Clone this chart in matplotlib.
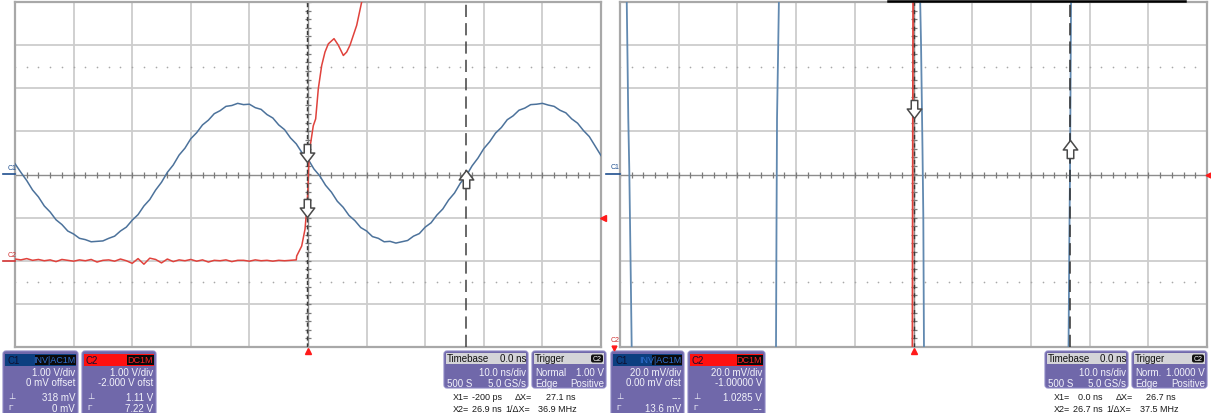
import numpy as np
import matplotlib
matplotlib.use('Agg')
import matplotlib.pyplot as plt
from matplotlib.patches import FancyBboxPatch, Rectangle
from matplotlib.path import Path
from matplotlib import font_manager

W, H = 1211, 414

# ---------------- data (left screen: 10 ns/div, C1 1 V/div, C2 1 V/div, C2 offset -2 V)
blue_left_t = list(range(-50, 51))
blue_left_v = [0.25, 0.05, -0.14, -0.36, -0.52, -0.73, -0.87, -1.05, -1.16, -1.31,
               -1.38, -1.48, -1.51, -1.56, -1.55, -1.54, -1.48, -1.43, -1.31, -1.22,
               -1.06, -0.93, -0.73, -0.58, -0.36, -0.18, 0.05, 0.22, 0.45, 0.61,
               0.83, 0.97, 1.15, 1.26, 1.41, 1.48, 1.58, 1.60, 1.65, 1.62,
               1.63, 1.55, 1.51, 1.39, 1.31, 1.15, 1.04, 0.85, 0.71, 0.50,
               0.36, 0.13, -0.03, -0.25, -0.41, -0.62, -0.76, -0.95, -1.07, -1.23,
               -1.31, -1.44, -1.48, -1.56, -1.55, -1.59, -1.56, -1.53, -1.43, -1.37,
               -1.22, -1.12, -0.94, -0.80, -0.59, -0.43, -0.20, -0.03, 0.20, 0.38,
               0.60, 0.76, 0.96, 1.09, 1.27, 1.36, 1.49, 1.54, 1.62, 1.63,
               1.65, 1.61, 1.58, 1.49, 1.43, 1.29, 1.19, 1.02, 0.88, 0.66,
               0.44]

red_flat_t = list(range(-50, -1))
red_flat_v = [0.04, 0.02, 0.05, 0.01, 0.03, 0.00, 0.02, -0.02, 0.03, 0.01,
              -0.01, 0.02, 0.00, 0.03, -0.03, 0.01, 0.02, -0.01, 0.04, 0.00,
              -0.06, 0.05, -0.08, 0.06, 0.03, -0.05, 0.04, -0.02, 0.02, 0.00,
              0.03, -0.01, 0.02, -0.03, 0.01, 0.00, 0.02, -0.02, 0.01, 0.01,
              -0.01, 0.02, 0.00, 0.01, -0.01, 0.01, 0.00, 0.01, 0.02]
red_edge_t = [-1.93, -1.08, -0.51, -0.12, 0.22, 0.90, 1.31, 1.76, 2.34, 2.90,
              3.47, 4.44, 5.17, 6.03, 6.60, 7.17, 8.31, 9.16, 10.0]
red_edge_v = [0.11, 0.34, 0.73, 1.36, 2.52, 3.13, 3.29, 3.99, 4.53, 4.84,
              5.03, 5.15, 5.00, 4.76, 4.84, 5.00, 5.46, 6.00, 6.50]

# ---------------- data (right screen: 10 ns/div, C1 20 mV/div, C2 20 mV/div, C2 offset -1 V)
edge1_t = [-48.87, -48.72, -48.59, -48.42, -48.30, -48.16, -47.99]
edge1_mv = [84, 53.7, 25.8, 2.6, -20.7, -48.6, -84]
edge2_t = [-23.43, -23.34, -23.25, -23.08, -22.91]
edge2_mv = [-84, -25, 26, 54, 84]
edge3_t = [1.11, 1.28, 1.53, 1.67, 1.79]
edge3_mv = [84, 61, 12, -19, -84]
edge4_t = [26.40, 26.55, 26.66, 26.75, 26.85]
edge4_mv = [-84, -30, 0, 40, 84]
red_right_t = [-0.20, -0.13, -0.06]
red_right_v = [0.90, 1.00, 1.10]

cursors_left = [-0.2, 26.9]
cursors_right = [0.0, 26.7]

BLUE = '#4c729b'
RED = '#e0423c'
GRID = '#cdcdcd'
PURPLE = '#7068aa'


def pick_font():
    for name in ['Liberation Sans Narrow', 'DejaVu Sans Condensed', 'Liberation Sans']:
        try:
            font_manager.findfont(font_manager.FontProperties(family=name),
                                  fallback_to_default=False)
            return name
        except Exception:
            pass
    return 'DejaVu Sans'


FONT = pick_font()
FAM = [FONT, 'DejaVu Sans']

# block-arrow marker (pointing down)
_v = [(-0.36, 1.0), (0.36, 1.0), (0.36, 0.05), (0.8, 0.05), (0.0, -1.0),
      (-0.8, 0.05), (-0.36, 0.05), (-0.36, 1.0)]
ARROW_DOWN = Path(_v, [Path.MOVETO] + [Path.LINETO] * 6 + [Path.CLOSEPOLY])
ARROW_UP = Path([(x, -y) for x, y in _v], [Path.MOVETO] + [Path.LINETO] * 6 + [Path.CLOSEPOLY])

fig = plt.figure(figsize=(W / 100, H / 100), dpi=100)


def make_screen(x0, x1):
    ax = fig.add_axes([x0 / W, 1 - 348 / H, (x1 - x0) / W, 345 / H])
    ax.set_xlim(-50, 50)
    ax.set_ylim(-4, 4)
    ax.set_xticks([])
    ax.set_yticks([])
    for s in ax.spines.values():
        s.set_color('#a8a8a8')
        s.set_linewidth(1.6)
    for i in range(-4, 5):
        if i != 0:
            ax.axvline(i * 10, color=GRID, lw=1.3, zorder=0)
    for j in range(-3, 4):
        if j != 0:
            ax.axhline(j, color=GRID, lw=1.3, zorder=0)
    ax.axhline(0, color='#8c8c8c', lw=1.0, zorder=0)
    ax.axvline(0, color='#8c8c8c', lw=1.0, zorder=0)
    xs = np.arange(-50, 50.01, 2)
    ax.plot(xs, np.zeros_like(xs), ls='none', marker='|', ms=4, mew=0.9,
            color='#7a7a7a', zorder=0)
    ys = np.arange(-4, 4.01, 0.2)
    ax.plot(np.zeros_like(ys), ys, ls='none', marker='_', ms=4, mew=0.9,
            color='#7a7a7a', zorder=0)
    for yd in (2.5, -2.5):
        ax.plot(xs, np.full_like(xs, yd), ls='none', marker='o', ms=1.2,
                mew=0, color='#a8a8a8', zorder=0)
    return ax


ax1 = make_screen(15, 601)
ax2 = make_screen(620, 1207)

# ---- left traces
ax1.plot(blue_left_t, np.array(blue_left_v) / 1.0, color=BLUE, lw=1.1, zorder=3)
red_t = red_flat_t + red_edge_t
red_v = red_flat_v + red_edge_v
ax1.plot(red_t, (np.array(red_v) - 2.0) / 1.0, color=RED, lw=1.1, zorder=3)
ax1.axvline(cursors_left[0], color='#3a3a3a', lw=1.0, ls=(0, (3, 2)), zorder=4)
ax1.axvline(cursors_left[1], color='#404040', lw=1.1, ls=(0, (8, 4)), zorder=4)

# ---- right traces
for tt, mv in ((edge1_t, edge1_mv), (edge2_t, edge2_mv), (edge3_t, edge3_mv), (edge4_t, edge4_mv)):
    ax2.plot(tt, np.array(mv) / 20.0, color='#6189b0', lw=1.3, zorder=3)
ax2.plot(red_right_t, (np.array(red_right_v) - 1.0) / 0.02, color=RED, lw=1.3, zorder=3)
ax2.axvline(cursors_right[0], color='#3a3a3a', lw=1.0, ls=(0, (3, 3)), zorder=4)
ax2.axvline(cursors_right[1], color='#303030', lw=1.1, ls=(0, (8, 4)), zorder=4)

# ---- cursor arrows
def arrow(ax, x, y, up=False):
    ax.plot([x], [y], marker=ARROW_UP if up else ARROW_DOWN, ms=13, mfc='#ffffff',
            mec='#4a4a4a', mew=1.1, ls='none', zorder=6)


bv = np.interp(cursors_left[0], blue_left_t, blue_left_v)
rv = np.interp(cursors_left[0], red_t, red_v) - 2.0
arrow(ax1, cursors_left[0], bv + 0.1)
arrow(ax1, cursors_left[0], rv)
bv2 = np.interp(cursors_left[1], blue_left_t, blue_left_v)
arrow(ax1, cursors_left[1], bv2 - 0.05, up=True)
arrow(ax2, cursors_right[0], 1.52)
arrow(ax2, cursors_right[1], 0.59, up=True)

# ---- trigger markers
ax1.plot([0], [-4.1], marker='^', color='#ff1a1a', ms=4.5, clip_on=False, zorder=6)
ax2.plot([0], [-4.1], marker='^', color='#ff1a1a', ms=4.5, clip_on=False, zorder=6)
ax1.plot([50.35], [-1.0], marker='<', color='#ff1a1a', ms=4.5, clip_on=False, zorder=6)
ax2.plot([50.15], [0.0], marker='<', color='#ff1a1a', ms=3.5, clip_on=False, zorder=6)

# ---------------- overlay in pixel coordinates
ov = fig.add_axes([0, 0, 1, 1], zorder=10)
ov.set_xlim(0, W)
ov.set_ylim(H, 0)
ov.axis('off')
ov.patch.set_alpha(0)


def T(x, y, s, ha='left', color='#f2f2fa', size=7, weight='normal'):
    ov.text(x, y, s, ha=ha, va='center', color=color, fontsize=size,
            family=FAM, fontweight=weight)


def rbox(x0, y0, x1, y1, fc, ec='#8d88c4', r=3, lw=0.8):
    ov.add_patch(FancyBboxPatch((x0, y0), x1 - x0, y1 - y0,
                                boxstyle=f'round,pad=0,rounding_size={r}',
                                fc=fc, ec=ec, lw=lw))


def chan_box(x0, x1, hdr, label, tag, tagx0, tagcol, lines):
    rbox(x0, 352, x1, 418, PURPLE)
    ov.add_patch(Rectangle((x0 + 2, 355), x1 - x0 - 4, 11.5, fc=hdr, ec='none'))
    T(x0 + 4, 360.8, label, color='#101030', size=7)
    ov.add_patch(Rectangle((tagx0, 356), x1 - 2 - tagx0, 9.5, fc='#0a0a0a', ec='none'))
    T(x1 - 3, 360.8, tag, ha='right', color=tagcol, size=6.5)
    ys = [373, 383.5, 398, 409]
    for (s, y) in zip(lines, ys):
        T(x1 - 3, y, s, ha='right')
    T(x0 + 5, 398, '\u22a5', size=6)
    T(x0 + 5, 409, '\u0393', size=6)


def time_boxes(tx0, tx1, gx0, gx1, tb, trig_lvl, mode, x1, dx, x2, inv):
    # Timebase
    rbox(tx0, 352, tx1, 389, PURPLE)
    ov.add_patch(Rectangle((tx0 + 2, 354), tx1 - tx0 - 4, 11, fc='#d4d4d8', ec='none'))
    T(tx0 + 3, 359.5, 'Timebase', color='#111111')
    T(tx1 - 2, 359.5, '0.0 ns', ha='right', color='#111111')
    T(tx1 - 2, 373.5, tb, ha='right')
    T(tx0 + 3, 384, '500 S')
    T(tx1 - 2, 384, '5.0 GS/s', ha='right')
    # Trigger
    rbox(gx0, 352, gx1, 389, PURPLE)
    ov.add_patch(Rectangle((gx0 + 2, 354), gx1 - gx0 - 4, 11, fc='#d4d4d8', ec='none'))
    T(gx0 + 3, 359.5, 'Trigger', color='#111111')
    ov.add_patch(FancyBboxPatch((gx1 - 15, 355.5), 12, 8,
                                boxstyle='round,pad=0,rounding_size=2',
                                fc='#111111', ec='none'))
    T(gx1 - 9, 359.5, 'C2', ha='center', color='#ffffff', size=5)
    T(gx0 + 3, 373.5, mode)
    T(gx1 - 2, 373.5, trig_lvl, ha='right')
    T(gx0 + 3, 384, 'Edge')
    T(gx1 - 2, 384, 'Positive', ha='right')
    # cursor readouts
    k = '#1a1a1a'
    s = 6.5
    T(tx0 + 9, 397.5, 'X1=', color=k, size=s)
    T(tx0 + 58, 397.5, x1, ha='right', color=k, size=s)
    T(tx0 + 71, 397.5, '\u0394X=', color=k, size=s)
    T(tx0 + 131, 397.5, dx, ha='right', color=k, size=s)
    T(tx0 + 9, 410, 'X2=', color=k, size=s)
    T(tx0 + 58, 410, x2, ha='right', color=k, size=s)
    T(tx0 + 61, 410, '1/\u0394X=', color=k, size=s)
    T(tx0 + 133, 410, inv, ha='right', color=k, size=s)


# left screen info
chan_box(3, 78, '#0c3f80', 'C1', 'INV|AC1M', 35, '#2f6fd0',
         ['1.00 V/div', '0 mV offset', '318 mV', '0 mV'])
chan_box(82, 156, '#ff1010', 'C2', 'DC1M', 127, '#ff2020',
         ['1.00 V/div', '-2.000 V ofst', '1.11 V', '7.22 V'])
time_boxes(444, 528, 532, 606, '10.0 ns/div', '1.00 V', 'Normal',
           '-200 ps', '27.1 ns', '26.9 ns', '36.9 MHz')

# right screen info
chan_box(611, 684, '#0c3f80', 'C1', 'INV|AC1M', 652, '#2f6fd0',
         ['20.0 mV/div', '0.00 mV ofst', '---', '13.6 mV'])
chan_box(688, 765, '#ff1010', 'C2', 'DC1M', 737, '#ff2020',
         ['20.0 mV/div', '-1.00000 V', '1.0285 V', '---'])
time_boxes(1045, 1128, 1132, 1207, '10.0 ns/div', '1.0000 V', 'Norm.',
           '0.0 ns', '26.7 ns', '26.7 ns', '37.5 MHz')

# channel reference labels
T(8, 169, 'C1', color='#1f4f8f', size=5)
ov.plot([3, 15], [174.5, 174.5], color='#1f4f8f', lw=1.2)
T(8, 256, 'C2', color='#d03030', size=5)
ov.plot([3, 15], [261.5, 261.5], color='#d03030', lw=1.2)
T(611, 168, 'C1', color='#1f4f8f', size=5)
ov.plot([606, 620], [174.5, 174.5], color='#1f4f8f', lw=1.2)
T(611, 341, 'C2', color='#d03030', size=5)
ov.plot([614], [348.5], marker='v', color='#ff1a1a', ms=3.5)

# black bar above right screen
ov.plot([888, 1185], [1.5, 1.5], color='#000000', lw=1.8)

fig.savefig('out.png', dpi=100)
